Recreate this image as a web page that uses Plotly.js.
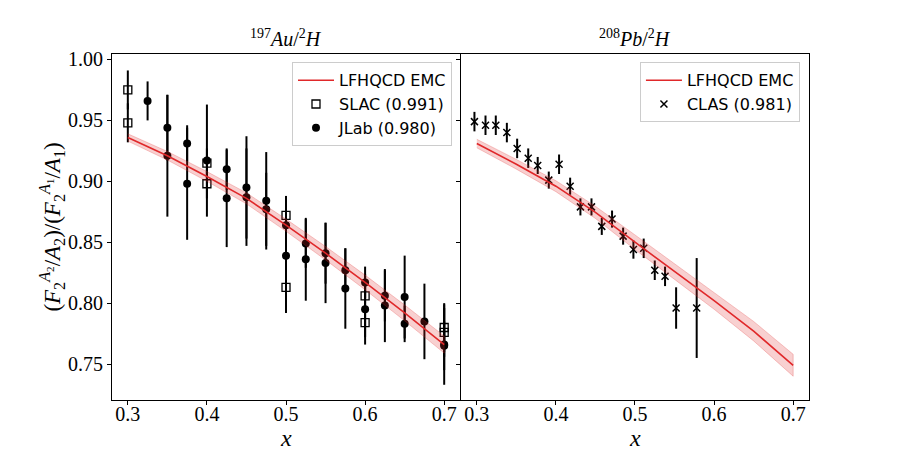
<!DOCTYPE html>
<html>
<head>
<meta charset="utf-8">
<script src="https://cdn.plot.ly/plotly-3.0.1.min.js"></script>
<style>html,body{margin:0;padding:0;background:#fff;}#chart{width:900px;height:450px;}</style>
</head>
<body>
<div id="chart"></div>
<script>
// ---- Left panel: 197Au / 2H ----
var slacX = [0.3, 0.3, 0.4, 0.4, 0.5, 0.5, 0.6, 0.6, 0.7, 0.7];
var slacY = [0.975, 0.948, 0.915, 0.898, 0.872, 0.813, 0.806, 0.784, 0.780, 0.776];
var slacErr = [0.016, 0.016, 0.012, 0.012, 0.016, 0.021, 0.012, 0.012, 0.020, 0.020];

var jlabX = [0.325, 0.35, 0.35, 0.375, 0.375, 0.4, 0.425, 0.425, 0.45, 0.45, 0.475, 0.475, 0.5, 0.5, 0.525, 0.525, 0.55, 0.55, 0.575, 0.575, 0.6, 0.6, 0.625, 0.625, 0.65, 0.65, 0.675, 0.7, 0.7];
var jlabY = [0.966, 0.944, 0.921, 0.931, 0.898, 0.917, 0.910, 0.886, 0.895, 0.887, 0.884, 0.877, 0.864, 0.839, 0.849, 0.836, 0.841, 0.833, 0.827, 0.812, 0.817, 0.795, 0.806, 0.798, 0.805, 0.783, 0.785, 0.766, 0.765];
var jlabErr = [0.016, 0.027, 0.050, 0.015, 0.046, 0.046, 0.017, 0.040, 0.042, 0.040, 0.040, 0.030, 0.020, 0.047, 0.020, 0.034, 0.025, 0.033, 0.018, 0.033, 0.013, 0.029, 0.021, 0.030, 0.034, 0.015, 0.031, 0.033, 0.020];

var auX  = [0.3, 0.35, 0.4, 0.45, 0.5, 0.55, 0.6, 0.65, 0.7];
var auY  = [0.936, 0.921, 0.904, 0.886, 0.864, 0.841, 0.817, 0.792, 0.766];
var auLo = [0.933, 0.9175, 0.900, 0.8815, 0.859, 0.8355, 0.811, 0.7855, 0.759];
var auHi = [0.939, 0.9245, 0.908, 0.8905, 0.869, 0.8465, 0.823, 0.7985, 0.773];

// ---- Right panel: 208Pb / 2H ----
var clasX = [0.297, 0.311, 0.324, 0.338, 0.351, 0.365, 0.377, 0.391, 0.404, 0.418, 0.431, 0.445, 0.458, 0.471, 0.485, 0.498, 0.511, 0.525, 0.538, 0.552, 0.578];
var clasY = [0.949, 0.946, 0.946, 0.940, 0.927, 0.919, 0.913, 0.901, 0.914, 0.896, 0.879, 0.879, 0.863, 0.869, 0.855, 0.844, 0.845, 0.827, 0.822, 0.796, 0.796];
var clasErr = [0.008, 0.008, 0.008, 0.008, 0.008, 0.008, 0.007, 0.007, 0.008, 0.007, 0.007, 0.007, 0.007, 0.007, 0.007, 0.0075, 0.008, 0.008, 0.008, 0.017, 0.041];

var pbX  = [0.3, 0.35, 0.4, 0.45, 0.5, 0.55, 0.6, 0.65, 0.7];
var pbY  = [0.931, 0.914, 0.896, 0.8745, 0.850, 0.826, 0.802, 0.777, 0.749];
var pbLo = [0.9275, 0.910, 0.8915, 0.8695, 0.844, 0.8195, 0.795, 0.769, 0.740];
var pbHi = [0.9345, 0.918, 0.9005, 0.8795, 0.856, 0.8325, 0.809, 0.785, 0.758];

var xTicks = [0.3, 0.4, 0.5, 0.6, 0.7];
var xTickText = ['0.3', '0.4', '0.5', '0.6', '0.7'];
var yTicks = [0.75, 0.80, 0.85, 0.90, 0.95, 1.00];
var yTickText = ['0.75', '0.80', '0.85', '0.90', '0.95', '1.00'];

var RED = '#e0282a';
var BAND = 'rgba(224,40,42,0.22)';
var BANDEDGE = 'rgba(224,40,42,0.3)';

function band(x, lo, hi, xa, ya) {
  return {
    x: x.concat(x.slice().reverse()),
    y: hi.concat(lo.slice().reverse()),
    xaxis: xa, yaxis: ya, type: 'scatter', mode: 'lines',
    fill: 'toself', fillcolor: BAND, line: {color: BANDEDGE, width: 0.8},
    showlegend: false, hoverinfo: 'skip'
  };
}

var errStyle = {type: 'data', visible: true, color: '#000', thickness: 2, width: 0};

var traces = [
  {x: slacX, y: slacY, xaxis: 'x', yaxis: 'y', type: 'scatter', mode: 'markers', name: 'SLAC (0.991)',
   marker: {symbol: 'square-open', size: 8, color: '#000', line: {width: 1.3, color: '#000'}},
   error_y: Object.assign({array: slacErr}, errStyle), legend: 'legend', legendrank: 2},
  {x: jlabX, y: jlabY, xaxis: 'x', yaxis: 'y', type: 'scatter', mode: 'markers', name: 'JLab (0.980)',
   marker: {symbol: 'circle', size: 8, color: '#000'},
   error_y: Object.assign({array: jlabErr}, errStyle), legend: 'legend', legendrank: 3},
  band(auX, auLo, auHi, 'x', 'y'),
  {x: auX, y: auY, xaxis: 'x', yaxis: 'y', type: 'scatter', mode: 'lines', name: 'LFHQCD EMC',
   line: {color: RED, width: 1.6}, legend: 'legend', legendrank: 1},

  {x: clasX, y: clasY, xaxis: 'x2', yaxis: 'y2', type: 'scatter', mode: 'markers', name: 'CLAS (0.981)',
   marker: {symbol: 'x-thin', size: 7, color: '#000', line: {width: 1.5, color: '#000'}},
   error_y: Object.assign({array: clasErr}, errStyle), legend: 'legend2', legendrank: 2},
  band(pbX, pbLo, pbHi, 'x2', 'y2'),
  {x: pbX, y: pbY, xaxis: 'x2', yaxis: 'y2', type: 'scatter', mode: 'lines', name: 'LFHQCD EMC',
   line: {color: RED, width: 1.6}, legend: 'legend2', legendrank: 1}
];

var tickFont = {family: 'Liberation Serif, serif', size: 20, color: '#000'};
function xAxis(dom, anchor) {
  return {domain: dom, anchor: anchor, range: [0.28, 0.72], tickvals: xTicks, ticktext: xTickText,
    ticks: 'outside', ticklen: 4, tickwidth: 1, tickcolor: '#000', showline: true, mirror: true,
    linecolor: '#000', linewidth: 1, showgrid: false, zeroline: false, tickfont: tickFont,
    ticklabelstandoff: -8};
}
function yAxis(anchor, labels) {
  return {anchor: anchor, domain: [0, 1], range: [0.7205, 1.0045], tickvals: yTicks, ticktext: yTickText,
    ticks: 'outside', ticklen: 4, tickwidth: 1, tickcolor: '#000', showline: true, mirror: true,
    linecolor: '#000', linewidth: 1, showgrid: false, zeroline: false, tickfont: tickFont,
    showticklabels: labels};
}

var yA = yAxis('x', true);
yA.title = {text: '(<i>F</i><sub>2</sub><sup><i>A</i><sub>2</sub></sup>/<i>A</i><sub>2</sub>)/(<i>F</i><sub>2</sub><sup><i>A</i><sub>1</sub></sup>/<i>A</i><sub>1</sub>)',
  font: {family: 'Liberation Serif, serif', size: 23, color: '#000'}, standoff: 0};
var yB = yAxis('x2', false);
yB.matches = 'y';

var legendBase = {
  bgcolor: 'rgba(255,255,255,0.85)', bordercolor: '#cccccc', borderwidth: 1,
  font: {family: 'DejaVu Sans, sans-serif', size: 16, color: '#000'},
  xref: 'paper', yref: 'paper', xanchor: 'right', yanchor: 'top', tracegroupgap: 0, itemwidth: 36
};

var xTitleFont = {family: 'Liberation Serif, serif', size: 24, color: '#000'};

var layout = {
  width: 900, height: 450,
  margin: {l: 112, r: 91, t: 53.5, b: 50},
  paper_bgcolor: '#fff', plot_bgcolor: '#fff',
  showlegend: true,
  xaxis: xAxis([0, 0.4993], 'y'),
  yaxis: yA,
  xaxis2: xAxis([0.5007, 1], 'y2'),
  yaxis2: yB,
  legend: Object.assign({}, legendBase, {x: 0.4878, y: 0.976}),
  legend2: Object.assign({}, legendBase, {x: 0.987, y: 0.976}),
  annotations: [
    {text: '<sup>197</sup><i>Au</i>/<sup>2</sup><i>H</i>', xref: 'paper', yref: 'paper', x: 0.2496, y: 1.0,
     xanchor: 'center', yanchor: 'bottom', yshift: 2, showarrow: false,
     font: {family: 'Liberation Serif, serif', size: 20, color: '#000'}},
    {text: '<sup>208</sup><i>Pb</i>/<sup>2</sup><i>H</i>', xref: 'paper', yref: 'paper', x: 0.7503, y: 1.0,
     xanchor: 'center', yanchor: 'bottom', yshift: 2, showarrow: false,
     font: {family: 'Liberation Serif, serif', size: 20, color: '#000'}},
    {text: '<i>x</i>', xref: 'paper', yref: 'paper', x: 0.2496, y: 0, yshift: -38,
     xanchor: 'center', yanchor: 'middle', showarrow: false, font: xTitleFont},
    {text: '<i>x</i>', xref: 'paper', yref: 'paper', x: 0.7503, y: 0, yshift: -38,
     xanchor: 'center', yanchor: 'middle', showarrow: false, font: xTitleFont}
  ]
};

Plotly.newPlot('chart', traces, layout, {displayModeBar: false, staticPlot: true});
</script>
</body>
</html>
